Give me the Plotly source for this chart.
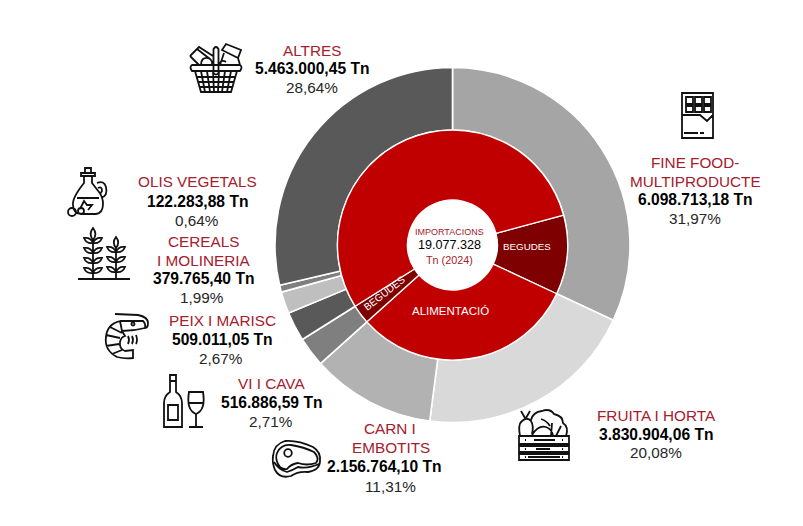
import re
import plotly.graph_objects as go

# ---- data ----
outer_labels = ["FINE FOOD-MULTIPRODUCTE", "FRUITA I HORTA", "CARN I EMBOTITS", "VI I CAVA",
                "PEIX I MARISC", "CEREALS I MOLINERIA", "OLIS VEGETALS", "ALTRES"]
outer_values = [6098713.18, 3830904.06, 2156764.10, 516886.59,
                509011.05, 379765.40, 122283.88, 5463000.45]
outer_colors = ["#A5A5A5", "#D9D9D9", "#B2B2B2", "#7F7F7F",
                "#595959", "#BFBFBF", "#7F7F7F", "#595959"]

inner_labels = ["BEGUDES (1)", "ALIMENTACIÓ (1)", "BEGUDES (2)", "ALIMENTACIÓ (2)"]
inner_values = [2123713.18, 5987668.16, 516886.59, 10449060.38]
inner_colors = ["#7F0000", "#C00000", "#7F0000", "#C00000"]
inner_start_angle = 75

RED = "#A5202C"
GREY = "#262626"
B = 15.6
L = 15.3
# text, centre x, centre y, size, colour, bold
text_rows = [
    ("ALTRES", 312, 50, L, RED, False),
    ("5.463.000,45 Tn", 312, 68, B, "#000000", True),
    ("28,64%", 312, 87, L, GREY, False),
    ("FINE FOOD-", 695, 162, L, RED, False),
    ("MULTIPRODUCTE", 695, 181, L, RED, False),
    ("6.098.713,18 Tn", 695, 199, B, "#000000", True),
    ("31,97%", 695, 218, L, GREY, False),
    ("FRUITA I HORTA", 656, 415, L, RED, False),
    ("3.830.904,06 Tn", 656, 434, B, "#000000", True),
    ("20,08%", 656, 452, L, GREY, False),
    ("CARN I", 390, 428, L, RED, False),
    ("EMBOTITS", 391, 447, L, RED, False),
    ("2.156.764,10 Tn", 384, 466, B, "#000000", True),
    ("11,31%", 390, 486, L, GREY, False),
    ("VI I CAVA", 271.5, 383, L, RED, False),
    ("516.886,59 Tn", 271, 402, B, "#000000", True),
    ("2,71%", 271, 421, L, GREY, False),
    ("PEIX I MARISC", 222, 320, L, RED, False),
    ("509.011,05 Tn", 222, 339, B, "#000000", True),
    ("2,67%", 221, 358, L, GREY, False),
    ("CEREALS", 203, 241, L, RED, False),
    ("I MOLINERIA", 203, 260, L, RED, False),
    ("379.765,40 Tn", 203, 278, B, "#000000", True),
    ("1,99%", 202, 297, L, GREY, False),
    ("OLIS VEGETALS", 197, 182, L, RED, False),
    ("122.283,88 Tn", 197, 201, B, "#000000", True),
    ("0,64%", 197, 220, L, GREY, False),
    ("IMPORTACIONS", 449, 232.5, 9, RED, False),
    ("19.077.328", 449.5, 245.5, 12.6, "#000000", False),
    ("Tn (2024)", 449, 259.5, 10.8, RED, False),
    ("ALIMENTACIÓ", 450, 310.5, 11.5, "#FFFFFF", False),
    ("BEGUDES", 527, 246.5, 9.8, "#FFFFFF", False),
]

W, H = 803, 526
CX, CY, R_OUT, R_IN, R_HOLE = 452.5, 245, 177.5, 115, 45


def domain(r):
    return dict(x=[(CX - r) / W, (CX + r) / W], y=[1 - (CY + r) / H, 1 - (CY - r) / H])


def pie(labels, values, colors, r, hole, lw, rotation=0):
    return go.Pie(labels=labels, values=values, sort=False, direction="clockwise", rotation=rotation,
                  hole=hole, domain=domain(r), textinfo="none", showlegend=False,
                  marker=dict(colors=colors, line=dict(color="#FFFFFF", width=lw)))


fig = go.Figure([
    pie(outer_labels, outer_values, outer_colors, R_OUT, R_IN / R_OUT, 1.6),
    pie(inner_labels, inner_values, inner_colors, R_IN, R_HOLE / R_IN, 1.3, inner_start_angle),
])

FONT = "Liberation Sans, Arial, sans-serif"
annotations = [dict(x=x / W, y=1 - y / H, xref="paper", yref="paper", text=f"<b>{t}</b>" if b else t,
                    showarrow=False, xanchor="center", yanchor="middle",
                    font=dict(family=FONT, size=s, color=c))
               for t, x, y, s, c, b in text_rows]
annotations.append(dict(x=384 / W, y=1 - 293.5 / H, xref="paper", yref="paper", text="BEGUDES", textangle=-38,
                        showarrow=False, font=dict(family=FONT, size=10, color="#FFFFFF")))


# ---- icons (decoration) ----
def to_paper(d):
    def conv(m):
        return f"{float(m.group(1)) / W:.5f},{1 - float(m.group(2)) / H:.5f}"
    return re.sub(r"(-?[\d.]+)[ ,]+(-?[\d.]+)", conv, d)


def circle(x, y, r):
    k = r * 0.552
    return (f"M{x - r} {y} C{x - r} {y - k} {x - k} {y - r} {x} {y - r} C{x + k} {y - r} {x + r} {y - k} {x + r} {y} "
            f"C{x + r} {y + k} {x + k} {y + r} {x} {y + r} C{x - k} {y + r} {x - r} {y + k} {x - r} {y} Z ")


def rect(a, b, c, d):
    return f"M{a} {b} L{c} {b} L{c} {d} L{a} {d} Z "


def leaf(x0, y0, x1, y1):
    mx, my = (x0 + x1) / 2, (y0 + y1) / 2
    dx, dy = (y1 - y0) * 0.4, (x1 - x0) * 0.4
    return f"M{x0} {y0} Q{mx + dx} {my - dy} {x1} {y1} Q{mx - dx} {my + dy} {x0} {y0} Z "


icons = []
# chocolate
icons.append(rect(682, 93, 713, 138)
             + rect(686, 97, 693, 104) + rect(695, 97, 702, 104) + rect(704, 97, 711, 104)
             + rect(686, 106, 693, 112) + rect(695, 106, 702, 112) + rect(704, 106, 711, 112)
             + "M682 115 L700 115 L707 121 L713 115 M684 133 L698 133 M700 133 L704 133")
# basket
basket = "M192 65 L240 65 Q243 67 240 71 L192 71 Q189 67 192 65 Z "
basket += "M195 71 L201 92 L231 92 L237 71 "
for x0, x1 in [(201, 205), (207, 210), (213, 214), (219, 218), (225, 222), (231, 227)]:
    basket += f"M{x0} 71 L{x1} 92 "
for y, a, b in [(77, 197, 235), (82, 198.5, 233.5), (87, 200, 232)]:
    basket += f"M{a} {y} L{b} {y} "
basket += "M213.5 65 L213.5 49 Q216 45 218.5 49 L218.5 73 Q216 76 213.5 73 L213.5 65 "
basket += "M190 56 L199 47 L213 56 M190 56 L199 65 M197 49 L210 59 M201 65 Q201 57 208 58 Q213 60 212 65 "
basket += "M222 50 L226 44 L241 50 L238 58 Z M224 53 L220 65 M238 58 L240 65 M219 64 Q222 59 226 62 "
icons.append(basket)
# crate with vegetables
crate = rect(519, 436, 569, 444) + rect(519, 446, 569, 452) + rect(519, 454, 569, 460)
crate += "M520 436 Q518 425 521 422 Q527 416 531 421 Q534 426 532 434 M525 418 L521 411 M526 418 L530 411 "
crate += "M531 420 Q533 412 542 411 Q550 408 554 414 Q563 416 563 423 Q569 427 566 436 "
crate += "M532 435 Q538 425 546 427 Q552 429 553 436 M551 436 L552 423 M556 436 L561 426 M541 419 Q547 421 550 426 "
for y in [440, 449, 457]:
    crate += f"M525 {y} L526 {y} M562 {y} L563 {y} "
crate += "M534 440 L555 440 M536 449 L550 449 M528 457 L560 457"
icons.append(crate)
# steak
steak = "M273 456 Q274 444 285 441 Q298 440 313 447 Q321 452 320 461 Q320 470 308 472 Q298 471 291 476 Q280 479 275 470 Q272 463 273 456 Z "
steak += "M277 453 Q281 444 291 445 Q304 447 314 452 Q320 458 316 463 Q307 466 298 463 Q291 464 287 469 Q281 470 278 464 Q275 458 277 453 Z "
steak += "M274 462 Q279 470 287 472 Q293 470 298 467 Q308 469 319 464 "
steak += circle(288, 453, 3.8)
icons.append(steak)
# wine
wine = "M170 375 L176 375 L176 392 Q182 396 182 403 L182 427 L164 427 L164 403 Q164 396 170 392 Z "
wine += "M170 381 L176 381 " + rect(168, 405, 178, 420)
wine += "M189 392 L203 392 Q206 410 196 414 Q186 410 189 392 Z M196 414 L196 426 M189 427 L203 427 M188.5 403 L203.5 403"
icons.append(wine)
# shrimp
shrimp = "M115 314 L138 315 Q148 317 148 323 Q148 328 145 328 M120 321 L143 321 Q146 324 145 328 Q134 331 122 331 L120 321 "
shrimp += "M120 321 Q107 324 106 337 Q104 350 117 357 Q125 359 133 358 L133 350 L125 351 Q119 349 120 342 Q121 337 125 336 L122 331 "
shrimp += "M106 335 L120 338 M110 327 L122 333 M106 346 L119 344 M112 354 L122 350 "
shrimp += "M128 336 Q130 340 128 344 M132 336 Q134 340 132 344 M136 335 Q138 340 136 344 "
shrimp += circle(133, 324, 1.6)
icons.append(shrimp)
# wheat
wheat = "M78 279 L130 279 M93 279 L93 240 M116 279 L116 246 "
wheat += leaf(93, 240, 93, 228)
for y in [238, 248, 258, 268]:
    wheat += leaf(93, y + 5, 84, y) + leaf(93, y + 5, 102, y)
wheat += leaf(116, 248, 116, 237)
for y in [247, 257, 267]:
    wheat += leaf(116, y + 5, 107, y) + leaf(116, y + 5, 125, y)
icons.append(wheat)
# oil bottle
oil = rect(81, 173, 95, 176) + rect(85, 168, 91, 173)
oil += "M84 176 L84 183 Q72 198 73 205 Q73 214 82 214 L96 214 Q103 213 103 204 Q103 197 99 192 Q92 183 92 183 L92 176 "
oil += "M97 183 Q104 180 106 187 Q108 196 101 198 M98 188 Q102 186 102 191 L100 194 "
oil += "M77 198 L99 198 M80 209 L84 201 L87 205 L92 205 L88 210 "
oil += circle(72, 212, 4) + circle(81, 211, 3)
icons.append(oil)

shapes = [dict(type="path", xref="paper", yref="paper", path=to_paper(p),
               line=dict(color="#111111", width=1.8), fillcolor="rgba(0,0,0,0)") for p in icons]

fig.update_layout(width=W, height=H, margin=dict(l=0, r=0, t=0, b=0), paper_bgcolor="#FFFFFF",
                  annotations=annotations, shapes=shapes, showlegend=False, hovermode=False)
fig.write_html("out.html", config={"displayModeBar": False},
               post_script="document.body.style.margin='0';document.documentElement.style.overflow='hidden';")
